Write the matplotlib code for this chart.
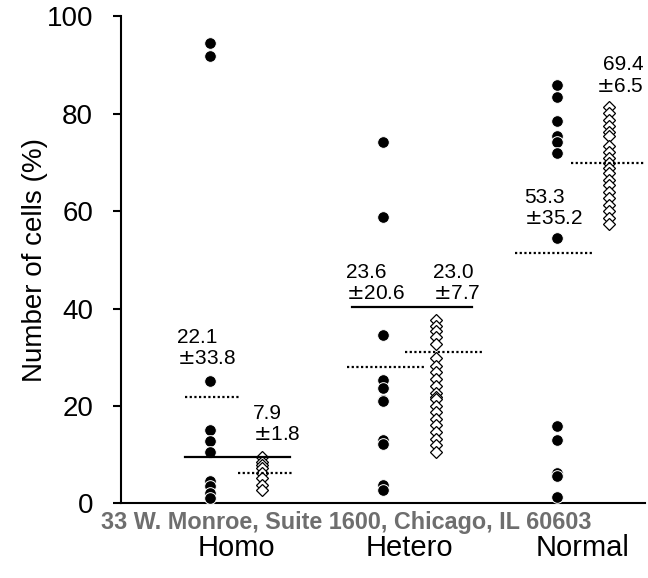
import matplotlib
matplotlib.use('Agg')
import matplotlib.pyplot as plt

plt.rcParams['font.family'] = ['Liberation Sans', 'DejaVu Sans']
plt.rcParams['mathtext.fontset'] = 'dejavusans'

groups = ['Homo', 'Hetero', 'Normal']

# black dots (first series) and white diamonds (second series), % of cells
homo_dots = [94.5, 91.8, 25.2, 15.1, 12.9, 10.5, 4.6, 3.6, 2.2, 1.1]
hetero_dots = [74.1, 58.8, 34.6, 25.3, 23.6, 21.2, 21.0, 13.0, 12.3, 3.8, 2.8]
normal_dots = [85.8, 83.4, 78.5, 75.4, 74.2, 71.8, 54.4, 15.8, 13.0, 6.3, 5.6, 1.4]

homo_dia = [9.5, 8.6, 7.9, 7.2, 6.2, 5.2, 3.8, 2.8]
hetero_dia = [37.6, 36.4, 35.3, 34.2, 32.8, 29.8, 28.3, 27.0, 25.6, 24.1, 22.7,
              21.8, 21.4, 20.1, 18.8, 17.4, 16.0, 14.7, 13.3, 11.9, 10.6]
normal_dia = [81.4, 80.1, 78.7, 77.4, 76.3, 75.3, 73.3, 72.2, 70.9, 69.8, 68.8,
              67.8, 66.4, 65.4, 64.0, 62.7, 61.3, 59.9, 58.6, 57.3]

# dotted lines (group means) and solid reference lines
mean_dots = [21.8, 28.1, 51.3]
mean_dia = [6.3, 31.1, 69.9]
solid_lines = [9.5, 40.4, None]

labels_dots = ['22.1\n$\\pm$33.8', '23.6\n$\\pm$20.6', '53.3\n$\\pm$35.2']
labels_dia = ['7.9\n$\\pm$1.8', '23.0\n$\\pm$7.7', '69.4\n$\\pm$6.5']

# layout helpers (positions only)
xpos = [1, 2, 3]
off = 0.152
dots_span = [(-0.14, 0.18), (-0.21, 0.24), (-0.24, 0.21)]
dia_span = [(-0.14, 0.18), (-0.18, 0.27), (-0.22, 0.22)]
solid_span = [(-0.294, 0.311), (-0.334, 0.36), None]
txt_dots = [(0.66, 31.9, 'left'), (1.634, 45.3, 'left'), (2.662, 60.6, 'left')]
txt_dia = [(1.098, 16.3, 'left'), (2.138, 45.3, 'left'), (3.35, 87.8, 'right')]

fig = plt.figure(figsize=(6.48, 5.78), dpi=100)
ax = fig.add_axes([0.1867, 0.1289, 0.8086, 0.8434])

dots = [homo_dots, hetero_dots, normal_dots]
dias = [homo_dia, hetero_dia, normal_dia]

for i, x in enumerate(xpos):
    xd = x - off
    xr = x + off
    ax.plot([xd] * len(dots[i]), dots[i], 'o', color='black', markersize=8.4,
            markeredgecolor='white', markeredgewidth=0.7, zorder=3)
    ax.plot([xr] * len(dias[i]), dias[i], 'D', markerfacecolor='white',
            markeredgecolor='black', markersize=6.3, markeredgewidth=0.9, zorder=3)

    a, b = dots_span[i]
    ax.plot([xd + a, xd + b], [mean_dots[i]] * 2, color='black', lw=1.6,
            linestyle=(0, (1.0, 1.1)), zorder=4)
    a, b = dia_span[i]
    ax.plot([xr + a, xr + b], [mean_dia[i]] * 2, color='black', lw=1.6,
            linestyle=(0, (1.0, 1.1)), zorder=4)

    if solid_lines[i] is not None:
        a, b = solid_span[i]
        ax.plot([x + a, x + b], [solid_lines[i]] * 2, color='black', lw=1.6,
                zorder=4)

    tx, ty, al = txt_dots[i]
    ax.text(tx, ty, labels_dots[i], ha=al, va='center', fontsize=15,
            linespacing=1.15)
    tx, ty, al = txt_dia[i]
    ax.text(tx, ty, labels_dia[i], ha=al, va='center', fontsize=15,
            linespacing=1.15)

ax.set_xlim(0.337, 3.357)
ax.set_ylim(0, 100)
ax.set_yticks([0, 20, 40, 60, 80, 100])
ax.set_xticks(xpos)
ax.set_xticklabels(groups)

for s in ['top', 'right']:
    ax.spines[s].set_visible(False)
for s in ['left', 'bottom']:
    ax.spines[s].set_linewidth(1.5)

ax.tick_params(axis='y', labelsize=20, length=6, width=1.5, pad=14)
ax.tick_params(axis='x', labelsize=21, length=0, pad=22)

ax.set_ylabel('Number of cells (%)', fontsize=20)
ax.yaxis.set_label_coords(-0.14, 0.5)

fig.text(346.5 / 648, 1 - 523 / 578, '33 W. Monroe, Suite 1600, Chicago, IL 60603',
         ha='center', va='center', fontsize=16.8, fontweight='bold', color='#6e6e6e')

fig.savefig('out.png', dpi=100)
